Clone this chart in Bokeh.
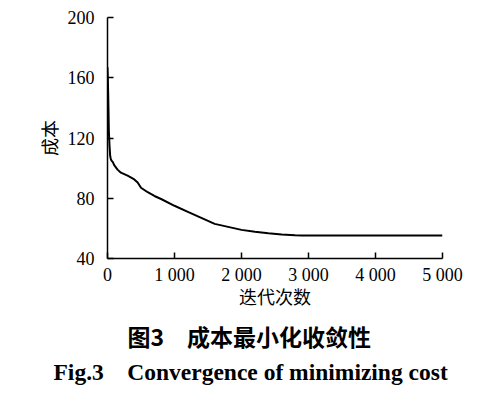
from bokeh.plotting import figure
from bokeh.models import FixedTicker, Range1d, Title
from bokeh.embed import file_html
from bokeh.resources import INLINE

iters = [0, 5, 10, 15, 20, 30, 40, 50, 60, 80, 100, 150, 200, 300, 400, 450, 500, 600,
         700, 800, 1000, 1200, 1400, 1600, 1800, 2000, 2200, 2400, 2600, 2800, 2900,
         3000, 4000, 5000]
cost = [167, 160, 150, 138, 125, 115, 108, 106, 105, 104, 102, 99, 97, 95, 92.5, 90.5,
        87, 84, 81.5, 79.5, 75, 71, 67, 63, 61, 59, 57.8, 56.8, 56, 55.4, 55.2,
        55.2, 55.2, 55.2]

x_ticks = [0, 1000, 2000, 3000, 4000, 5000]
x_tick_labels = ["0", "1 000", "2 000", "3 000", "4 000", "5 000"]
y_ticks = [40, 80, 120, 160, 200]

x_title = "迭代次数"
y_title = "成本"
caption_cn = "图3\u2003成本最小化收敛性"
caption_en = "Fig.3\u2003Convergence of minimizing cost"

SERIF = "'Liberation Serif', 'Times New Roman', serif"
CJK = "Noto Sans CJK SC"

p = figure(width=504, height=393, output_backend="svg", toolbar_location=None,
           x_range=Range1d(0, 5000), y_range=Range1d(40, 200),
           min_border_left=107, min_border_right=62, min_border_top=17,
           min_border_bottom=135)
p.outline_line_color = None
p.grid.grid_line_color = None
p.background_fill_color = "white"
p.border_fill_color = "white"

p.line(iters, cost, line_color="black", line_width=2)

for axes in (p.xaxis, p.yaxis):
    axes.axis_line_color = "black"
    axes.axis_line_width = 1.5
    axes.major_tick_line_color = "black"
    axes.major_tick_line_width = 1.5
    axes.major_tick_in = 6
    axes.major_tick_out = 0
    axes.minor_tick_line_color = None
    axes.major_label_text_font = SERIF
    axes.major_label_text_font_size = "18px"
    axes.major_label_text_color = "black"
    axes.axis_label_text_font = CJK
    axes.axis_label_text_font_size = "18px"
    axes.axis_label_text_font_style = "normal"
    axes.axis_label_text_color = "black"

p.xaxis.ticker = FixedTicker(ticks=x_ticks)
p.xaxis.major_label_overrides = {t: l for t, l in zip(x_ticks, x_tick_labels)}
p.xaxis.major_label_standoff = 6
p.xaxis.axis_label = x_title
p.xaxis.axis_label_standoff = -5

p.yaxis.ticker = FixedTicker(ticks=y_ticks)
p.yaxis.major_label_standoff = 13
p.yaxis.axis_label = y_title
p.yaxis.axis_label_standoff = 3

t1 = Title(text=caption_cn, align="left", offset=20, text_font=CJK, text_font_size="23px",
           text_font_style="bold", text_color="black", standoff=11)
t2 = Title(text=caption_en, align="left", offset=-54, text_font=SERIF,
           text_font_size="23.5px", text_font_style="bold", text_color="black", standoff=-4)
p.add_layout(t1, "below")
p.add_layout(t2, "below")

open("out.html", "w").write(file_html(p, INLINE))
